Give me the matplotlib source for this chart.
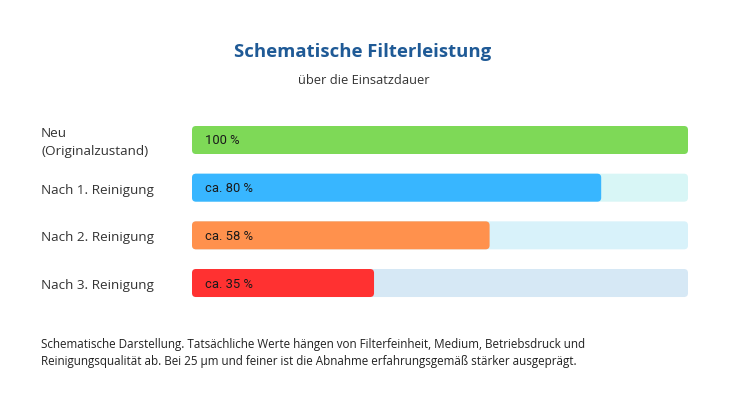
import matplotlib.pyplot as plt
from matplotlib.patches import FancyBboxPatch

# data
categories = ["Neu\n(Originalzustand)", "Nach 1. Reinigung", "Nach 2. Reinigung", "Nach 3. Reinigung"]
fill_values = [100, 82.5, 60, 36.7]
value_labels = ["100 %", "ca. 80 %", "ca. 58 %", "ca. 35 %"]
fill_colors = ["#7ed957", "#38b6ff", "#ff914d", "#ff3131"]
track_colors = ["#d8f6f6", "#d8f6f6", "#d8f2fa", "#d6e8f5"]

W, H = 729, 410
fig = plt.figure(figsize=(W / 100, H / 100), dpi=100, facecolor="white")

# bar area in pixel terms
left_px, right_px = 192, 688
row_step = 47.67
top_px = 141 - row_step / 2
ax = fig.add_axes([left_px / W, 1 - (top_px + 4 * row_step) / H,
                   (right_px - left_px) / W, 4 * row_step / H])
ax.set_xlim(0, 100)
ax.set_ylim(3.5, -0.5)
ax.axis("off")

bar_h = 28 / row_step
px_x = (right_px - left_px) / 100
r = 4 / px_x
aspect = px_x / row_step

for i, (cat, val, lab, fc, tc) in enumerate(zip(categories, fill_values, value_labels, fill_colors, track_colors)):
    ax.add_patch(FancyBboxPatch((0, i - bar_h / 2), 100, bar_h,
                                boxstyle=f"round,pad=0,rounding_size={r}",
                                mutation_aspect=aspect, fc=tc, ec="none"))
    ax.add_patch(FancyBboxPatch((0, i - bar_h / 2), val, bar_h,
                                boxstyle=f"round,pad=0,rounding_size={r}",
                                mutation_aspect=aspect, fc=fc, ec="none"))
    ax.text(13 / px_x, i, lab, va="center", ha="left", fontsize=9.4,
            family="Roboto", color="#1a1a1a")
    fig.text(41 / W, 1 - (top_px + (i + 0.5) * row_step + 1.5) / H, cat,
             va="center", ha="left", fontsize=9.7, family="Open Sans",
             color="#333333", linespacing=1.45)

fig.text(362.5 / W, 1 - 52 / H, "Schematische Filterleistung", ha="center", va="center",
         fontsize=13.3, fontweight="bold", family="Open Sans", color="#1f5a96")
fig.text(364 / W, 1 - 80.5 / H, "über die Einsatzdauer", ha="center", va="center",
         fontsize=9.3, family="Open Sans", color="#333333")

note = ("Schematische Darstellung. Tatsächliche Werte hängen von Filterfeinheit, Medium, Betriebsdruck und\n"
        "Reinigungsqualität ab. Bei 25 µm und feiner ist die Abnahme erfahrungsgemäß stärker ausgeprägt.")
fig.text(41 / W, 1 - 353 / H, note, ha="left", va="center", fontsize=8.35,
         family="Open Sans", color="#222222", linespacing=1.45)

fig.savefig("out.png", dpi=100, facecolor="white")
